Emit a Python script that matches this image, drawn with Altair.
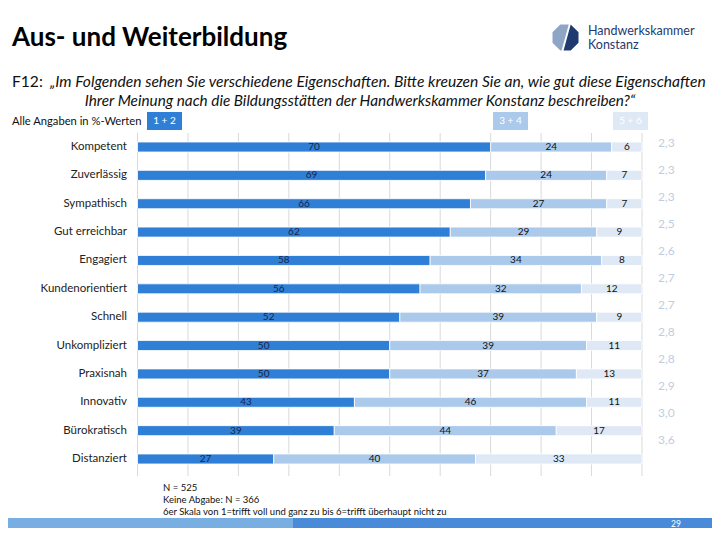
import altair as alt
import pandas as pd

# ---------------- data ----------------
categories = ["Kompetent", "Zuverlässig", "Sympathisch", "Gut erreichbar", "Engagiert",
              "Kundenorientiert", "Schnell", "Unkompliziert", "Praxisnah", "Innovativ",
              "Bürokratisch", "Distanziert"]
share_12 = [70, 69, 66, 62, 58, 56, 52, 50, 50, 43, 39, 27]
share_34 = [24, 24, 27, 29, 34, 32, 39, 39, 37, 46, 44, 40]
share_56 = [6, 7, 7, 9, 8, 12, 9, 11, 13, 11, 17, 33]
means = ["2,3", "2,3", "2,3", "2,5", "2,6", "2,7", "2,7", "2,8", "2,8", "2,9", "3,0", "3,6"]
groups = ["1 + 2", "3 + 4", "5 + 6"]
grid_ticks = [0, 10, 20, 30, 40, 50, 60, 70, 80, 90, 100]

FONT = "Lato"
C_DARK = "#2f7fd6"
C_MID = "#abcaeb"
C_LIGHT = "#dfe9f6"

# ---------------- tables ----------------
rows = []
for i, cat in enumerate(categories):
    start = 0
    for g, v in zip(groups, [share_12[i], share_34[i], share_56[i]]):
        rows.append({"cat": cat, "group": g, "value": v, "start": start,
                     "end": start + v, "mid": start + v / 2})
        start += v
bars_df = pd.DataFrame(rows)
cat_df = pd.DataFrame({"cat": categories, "mean": means})
grid_df = pd.DataFrame({"tick": grid_ticks})
one = pd.DataFrame({"a": [0]})


def px(x):
    return x - 8


def py(y):
    return y - 8


xscale = alt.Scale(domain=[0, 100], range=[px(137.5), px(642)])
yscale = alt.Scale(domain=categories, range=[py(147 - 14.18), py(459 + 14.18)],
                   paddingInner=0, paddingOuter=0)
color_scale = alt.Scale(domain=groups, range=[C_DARK, C_MID, C_LIGHT])

grid = alt.Chart(grid_df).mark_rule(color="#d9d9d9", strokeWidth=1).encode(
    x=alt.X("tick:Q", scale=xscale, axis=None),
    y=alt.value(py(133)), y2=alt.value(py(476)))

bars = alt.Chart(bars_df).mark_bar(size=10, stroke="white", strokeWidth=0.8).encode(
    x=alt.X("start:Q", scale=xscale, axis=None),
    x2="end:Q",
    y=alt.Y("cat:N", scale=yscale, axis=None, sort=categories),
    color=alt.Color("group:N", scale=color_scale, legend=None))

bar_labels = alt.Chart(bars_df).mark_text(font=FONT, fontSize=10, baseline="middle",
                                          align="center").encode(
    x=alt.X("mid:Q", scale=xscale, axis=None),
    y=alt.Y("cat:N", scale=yscale, axis=None, sort=categories),
    text="value:Q",
    color=alt.condition(alt.datum.group == "1 + 2", alt.value("#17264a"), alt.value("#111111")))

cat_labels = alt.Chart(cat_df).mark_text(font=FONT, fontSize=11.5, align="right",
                                         baseline="middle", color="#222222").encode(
    x=alt.value(px(127)),
    y=alt.Y("cat:N", scale=yscale, axis=None, sort=categories),
    text="cat:N")

mean_scale = alt.Scale(domain=categories, range=[py(143 - 13.5), py(440 + 13.5)],
                       paddingInner=0, paddingOuter=0)
mean_labels = alt.Chart(cat_df).mark_text(font=FONT, fontSize=12, align="left",
                                          baseline="middle", color="#bfcde0").encode(
    x=alt.value(px(658)),
    y=alt.Y("cat:N", scale=mean_scale, axis=None, sort=categories),
    text="mean:N")


def text(t, x, y, size=12, align="left", weight="normal", style="normal", color="#111111",
         baseline="middle"):
    return alt.Chart(one).mark_text(text=t, font=FONT, fontSize=size, align=align,
                                    fontWeight=weight, fontStyle=style, color=color,
                                    baseline=baseline).encode(
        x=alt.value(px(x)), y=alt.value(py(y)))


def rect(x1, x2, y1, y2, color):
    return alt.Chart(one).mark_rect(color=color).encode(
        x=alt.value(px(x1)), x2=alt.value(px(x2)), y=alt.value(py(y1)), y2=alt.value(py(y2)))


title = text("Aus- und Weiterbildung", 12, 38, size=26, weight="bold", color="#000000")
q1a = text("F12:", 12, 82, size=15.6, color="#111111")
q1b = text("„Im Folgenden sehen Sie verschiedene Eigenschaften. Bitte kreuzen Sie an, wie gut diese Eigenschaften",
           50, 82, size=15.6, style="italic")
q2 = text("Ihrer Meinung nach die Bildungsstätten der Handwerkskammer Konstanz beschreiben?“",
          360, 101, size=15.3, style="italic", align="center")
alle = text("Alle Angaben in %-Werten", 12, 122, size=11.2)

leg_rects = (rect(147, 182, 112, 130, C_DARK) + rect(493, 528, 112, 130, C_MID)
             + rect(613, 648, 112, 130, C_LIGHT))
leg_texts = (text(groups[0], 164.5, 121, size=10, align="center", color="white")
             + text(groups[1], 510.5, 121, size=10, align="center", color="white")
             + text(groups[2], 630.5, 121, size=10, align="center", color="white"))

foot = (text("N = 525", 163, 488, size=9.5)
        + text("Keine Abgabe: N = 366", 163, 500, size=9.5)
        + text("6er Skala von 1=trifft voll und ganz zu bis 6=trifft überhaupt nicht zu", 163, 512, size=9.5))

band = rect(0, 293, 518, 530, "#79aee3") + rect(293, 720, 518, 530, "#4a8bd9")
page_no = text("29", 676, 523.5, size=8.5, align="center", color="white")

logo_light = alt.Chart(one).mark_point(
    shape="M-0.4,-1 L0.25,-1 L-0.3,1 L-0.4,1 L-1,0.4 L-1,-0.4 Z",
    filled=True, opacity=1, color="#8fa5c5", size=676).encode(
    x=alt.value(px(565.5)), y=alt.value(py(37.5)))
logo_dark = alt.Chart(one).mark_point(
    shape="M0.4,-1 L1,-0.4 L1,0.4 L0.4,1 L-0.15,1 Z",
    filled=True, opacity=1, color="#1f3a6e", size=676).encode(
    x=alt.value(px(565.5)), y=alt.value(py(37.5)))
logo_t1 = text("Handwerkskammer", 588, 31, size=12.5, color="#1f3a6e")
logo_t2 = text("Konstanz", 588, 45, size=12.5, color="#1f3a6e")

chart = alt.layer(
    band, grid, bars, bar_labels, cat_labels, mean_labels, title, q1a, q1b, q2, alle,
    leg_rects, leg_texts, foot, page_no, logo_light, logo_dark, logo_t1, logo_t2
).resolve_scale(y="independent").properties(
    width=704, height=520, padding=0,
    autosize=alt.AutoSizeParams(type="none")
).configure_view(stroke=None)

chart.save("out.html", embed_options={"renderer": "svg", "actions": False})
